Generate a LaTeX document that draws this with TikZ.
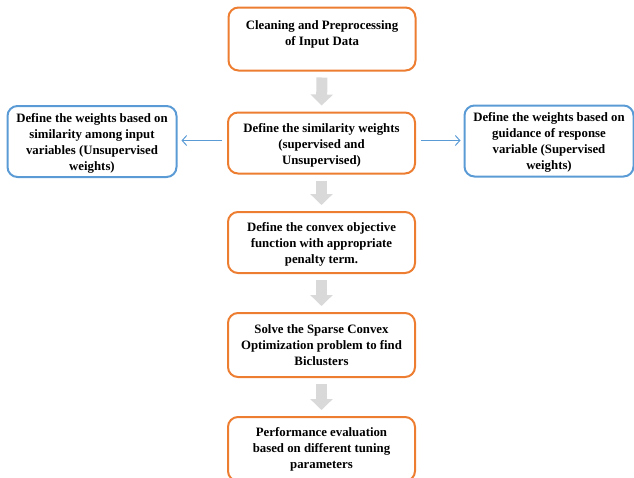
\documentclass[tikz,border=0pt]{standalone}
\usepackage{fontspec}
\setmainfont{Liberation Serif}
\usetikzlibrary{arrows.meta,calc}
\definecolor{boxorange}{RGB}{237,125,49}
\definecolor{boxblue}{RGB}{91,155,213}
\definecolor{arrgray}{RGB}{217,217,217}
\tikzset{
  base/.style={draw, rounded corners=10pt, line width=2pt, align=center, inner sep=0pt,
    font=\fontsize{12.8}{16}\selectfont\bfseries},
  obox/.style={base, draw=boxorange, minimum width=187pt, minimum height=61pt},
  bbox/.style={base, draw=boxblue, minimum width=169pt, minimum height=71pt},
  blockarr/.style={draw=arrgray, line width=11pt, -{Triangle[length=11pt,width=22pt]}, arrgray, shorten <=6pt, shorten >=6pt},
  thinarr/.style={draw=boxblue, line width=1pt, -{Straight Barb[length=4.5pt,width=10pt]}}
}
\begin{document}
\begin{tikzpicture}[x=1pt,y=-1pt]
\useasboundingbox (0,0) rectangle (634,477);
\clip (0,0) rectangle (634,477);
\node[obox, minimum height=63pt] (b1) at (322,39) {Cleaning and Preprocessing\\of Input Data\\[-4pt]\mbox{}};
\node[obox] (b2) at (321.5,143) {\rule{0pt}{14pt}Define the similarity weights\\(supervised and\\Unsupervised)};
\node[bbox] (l) at (92,141.5) {\rule{0pt}{12pt}Define the weights based on\\similarity among input\\variables (Unsupervised\\weights)};
\node[bbox] (r) at (549,141) {\rule{0pt}{12pt}Define the weights based on\\guidance of response\\variable (Supervised\\weights)};
\node[obox] (b3) at (321.5,242.5) {\rule{0pt}{12pt}Define the convex objective\\function with appropriate\\penalty term.};
\node[obox, minimum height=64pt] (b4) at (321.5,345) {Solve the Sparse Convex\\Optimization problem to find\\Biclusters};
\node[obox, minimum height=64pt] (b5) at (321.5,449) {Performance evaluation\\based on different tuning\\parameters};
\draw[blockarr] (b1.south) -- (b2.north);
\draw[blockarr] (b2.south) -- (b3.north);
\draw[blockarr] (b3.south) -- (b4.north);
\draw[blockarr] (b4.south) -- (b5.north);
\coordinate (la) at ($(b2.west)+(0,-2.5)$);
\coordinate (ra) at ($(b2.east)+(0,-2.5)$);
\draw[thinarr, shorten <=5pt, shorten >=4pt] (la) -- (l.east |- la);
\draw[thinarr, shorten <=5pt, shorten >=3pt] (ra) -- (r.west |- ra);
\end{tikzpicture}
\end{document}
